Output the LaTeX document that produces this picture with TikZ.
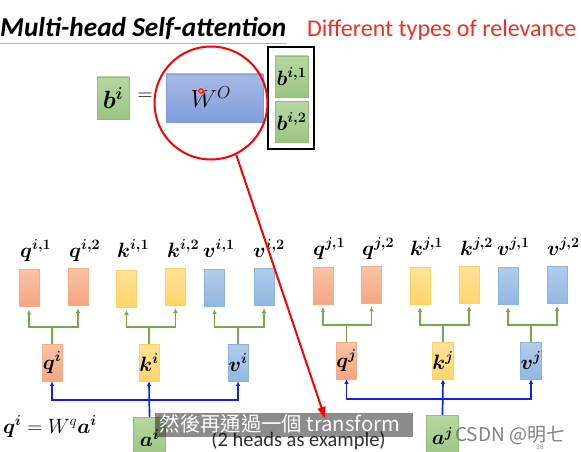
\documentclass[tikz,border=0pt]{standalone}
\usepackage[no-math]{fontspec}
\usepackage{amsmath,bm}
\setmainfont{Carlito}
\newfontfamily\cjk{Noto Sans CJK TC}
\usetikzlibrary{arrows.meta,shapes.geometric}
\definecolor{orT}{HTML}{F9C3A6}\definecolor{orB}{HTML}{F5A682}\definecolor{orD}{HTML}{F4AE88}
\definecolor{yeT}{HTML}{FFE39A}\definecolor{yeB}{HTML}{FFD56B}\definecolor{yeD}{HTML}{FFD35E}
\definecolor{bvT}{HTML}{B0CDEB}\definecolor{bvB}{HTML}{92B8E2}\definecolor{bvD}{HTML}{8DB4E0}
\definecolor{grT}{HTML}{B6D7A0}\definecolor{grB}{HTML}{9CC583}\definecolor{grD}{HTML}{90BE76}
\definecolor{woT}{HTML}{A6BAE6}\definecolor{woB}{HTML}{7F9EDB}\definecolor{woD}{HTML}{7F9CD6}
\definecolor{grA}{HTML}{70AD47}
\definecolor{blA}{HTML}{1020F0}
\definecolor{ttl}{HTML}{FF2A1F}
\begin{document}
\begin{tikzpicture}[x=1pt,y=-1pt,
  vec/.style={minimum width=20pt,minimum height=37pt,inner sep=0pt,line width=0.6pt},
  orv/.style={vec,draw=orD,top color=orT,bottom color=orB},
  yev/.style={vec,draw=yeD,top color=yeT,bottom color=yeB},
  bvv/.style={vec,draw=bvD,top color=bvT,bottom color=bvB},
  grv/.style={vec,draw=grD,top color=grT,bottom color=grB},
  toplab/.style={inner sep=0pt,anchor=base west,font=\fontsize{21}{21}\selectfont},
  inlab/.style={font=\fontsize{22}{22}\selectfont},
  garrow/.style={draw=grA,line width=1.4pt,-{Latex[length=4.5pt,width=4.5pt]},shorten >=3pt},
  gline/.style={draw=grA,line width=1.4pt},
  barrow/.style={draw=blA,line width=1.7pt,-{Latex[length=4.5pt,width=4.5pt]}},
]
\useasboundingbox (0,0) rectangle (581,452);

% title
\node[inner sep=0pt,anchor=base west,font=\bfseries\itshape\fontsize{27.3}{28}\selectfont] (title) at (0,37) {Multi-head Self-attention};
\draw[gray!60,line width=1pt] (0,44) -- (287,44);
\node[inner sep=0pt,anchor=base west,text=ttl,font=\fontsize{24}{24}\selectfont] (rel) at (307,37) {Different types of relevance};

% b^i = W^O [b^{i,1}; b^{i,2}]
\node[grv,minimum width=32pt,minimum height=42pt] (bi) at (113,98) {\fontsize{25}{25}\selectfont$\bm{b^i}$};
\node[font=\fontsize{22}{22}\selectfont] (eq) at (145,97) {$=$};
\node[minimum width=97pt,minimum height=48pt,inner sep=0pt,draw=woD,line width=0.6pt,top color=woT,bottom color=woB] (wo) at (214.5,98) {};
\node[inner sep=0pt] (wolab) at (211,97) {\fontsize{24}{24}\selectfont$W^O$};
\node[draw=black,line width=1.5pt,minimum width=46pt,minimum height=102pt,inner sep=0pt] (frame) at (291,98) {};
\node[grv,minimum width=33pt,minimum height=41pt] (bi1) at (291.5,76.5) {\fontsize{21}{21}\selectfont$\bm{b^{i,1}}$};
\node[grv,minimum width=33pt,minimum height=41pt] (bi2) at (291.5,121.5) {\fontsize{21}{21}\selectfont$\bm{b^{i,2}}$};

% top vectors (i)
\node[orv] (qi1) at (29,288) {};
\node[orv] (qi2) at (78,286.5) {};
\node[yev] (ki1) at (126.5,288.5) {};
\node[yev] (ki2) at (175.5,286.5) {};
\node[bvv] (vi1) at (214.5,287.5) {};
\node[bvv] (vi2) at (264,286.5) {};
% top vectors (j)
\node[orv] (qj1) at (323,285.5) {};
\node[orv] (qj2) at (371.5,285) {};
\node[yev] (kj1) at (420,285.5) {};
\node[yev] (kj2) at (469,284.5) {};
\node[bvv] (vj1) at (508,285.5) {};
\node[bvv] (vj2) at (557,284.5) {};

% labels
\node[toplab] (lqi1) at (20,257) {$\bm{q^{i,1}}$};
\node[toplab] (lqi2) at (69,257) {$\bm{q^{i,2}}$};
\node[toplab] (lki1) at (117,257) {$\bm{k^{i,1}}$};
\node[toplab] (lki2) at (167,257) {$\bm{k^{i,2}}$};
\node[toplab] (lvi1) at (203,257) {$\bm{v^{i,1}}$};
\node[toplab] (lvi2) at (253,257) {$\bm{v^{i,2}}$};
\node[toplab] (lqj1) at (313,255) {$\bm{q^{j,1}}$};
\node[toplab] (lqj2) at (362,255) {$\bm{q^{j,2}}$};
\node[toplab] (lkj1) at (410,255) {$\bm{k^{j,1}}$};
\node[toplab] (lkj2) at (460,255) {$\bm{k^{j,2}}$};
\node[toplab] (lvj1) at (497,255) {$\bm{v^{j,1}}$};
\node[toplab] (lvj2) at (547,255) {$\bm{v^{j,2}}$};

% middle vectors
\node[orv,inlab] (qi) at (52,362.5) {$\bm{q^i}$};
\node[yev,inlab] (ki) at (149,362.5) {$\bm{k^i}$};
\node[bvv,inlab] (vi) at (238,362.5) {$\bm{v^i}$};
\node[orv,inlab] (qj) at (346.5,360.5) {$\bm{q^j}$};
\node[yev,inlab] (kj) at (443,360.5) {$\bm{k^j}$};
\node[bvv,inlab] (vj) at (531,360.5) {$\bm{v^j}$};

% inputs
\node[grv,minimum width=32pt,minimum height=42pt,inlab] (ai) at (149.5,438) {$\bm{a^i}$};
\node[grv,minimum width=32pt,minimum height=42pt,inlab] (aj) at (442.5,436) {$\bm{a^j}$};

% formula
\node[inner sep=0pt,anchor=base west,font=\fontsize{22}{22}\selectfont] (form) at (3,433) {$\bm{q^i} = W^q\bm{a^i}$};

% green split arrows
\foreach \m/\a/\b/\y in {qi/qi1/qi2/327,ki/ki1/ki2/327,vi/vi1/vi2/327,qj/qj1/qj2/325,kj/kj1/kj2/325,vj/vj1/vj2/325}{
  \draw[gline] (\m.north) -- (\m.north |- 0,\y);
  \draw[garrow] (\m.north |- 0,\y) -| (\a.south);
  \draw[garrow] (\m.north |- 0,\y) -| (\b.south);
}

% blue arrows
\foreach \a/\q/\k/\v/\y in {ai/qi/ki/vi/400,aj/qj/kj/vj/399}{
  \draw[barrow] (\a.north) -- (\a.north |- 0,\y) -| (\q.south);
  \draw[barrow] (\a.north) -- (\a.north |- 0,\y) -| (\v.south);
  \draw[barrow] (\a.north) -- (\k.south);
}

% caption overlay
\node[inner sep=0pt,text=black!80,font=\fontsize{20.5}{20.5}\selectfont] (ex) at (298.5,441) {(2 heads as example)};
\node[fill=black,fill opacity=0.45,minimum width=258pt,minimum height=24pt,inner sep=0pt] (capbox) at (284,425) {};
\node[inner sep=0pt,text=white,font=\cjk\fontsize{20.3}{20.3}\selectfont] (captxt) at (280,424) {然後再通過一個 transform};

% watermark
\node[inner sep=0pt,anchor=west,text=black!50,font=\cjk\fontsize{19}{19}\selectfont] (wm) at (455,435) {CSDN @明七};
\node[inner sep=0pt,text=black!45,font=\fontsize{7}{7}\selectfont] (pg) at (540,447) {28};

% red circle + arrow
\node[circle,draw=red,line width=2pt,minimum size=113pt,inner sep=0pt] (circ) at (211,103) {};
\coordinate (tipc) at (325,418);
\draw[red,line width=2pt,-{Triangle[length=11pt,width=8pt]}] (circ.-64) -- (tipc);
\fill[red!35,opacity=0.6] (201,91) circle (4.5pt);
\filldraw[draw=red,fill=red!45!white,line width=1pt] (201,91) circle (2.3pt);
\end{tikzpicture}
\end{document}
